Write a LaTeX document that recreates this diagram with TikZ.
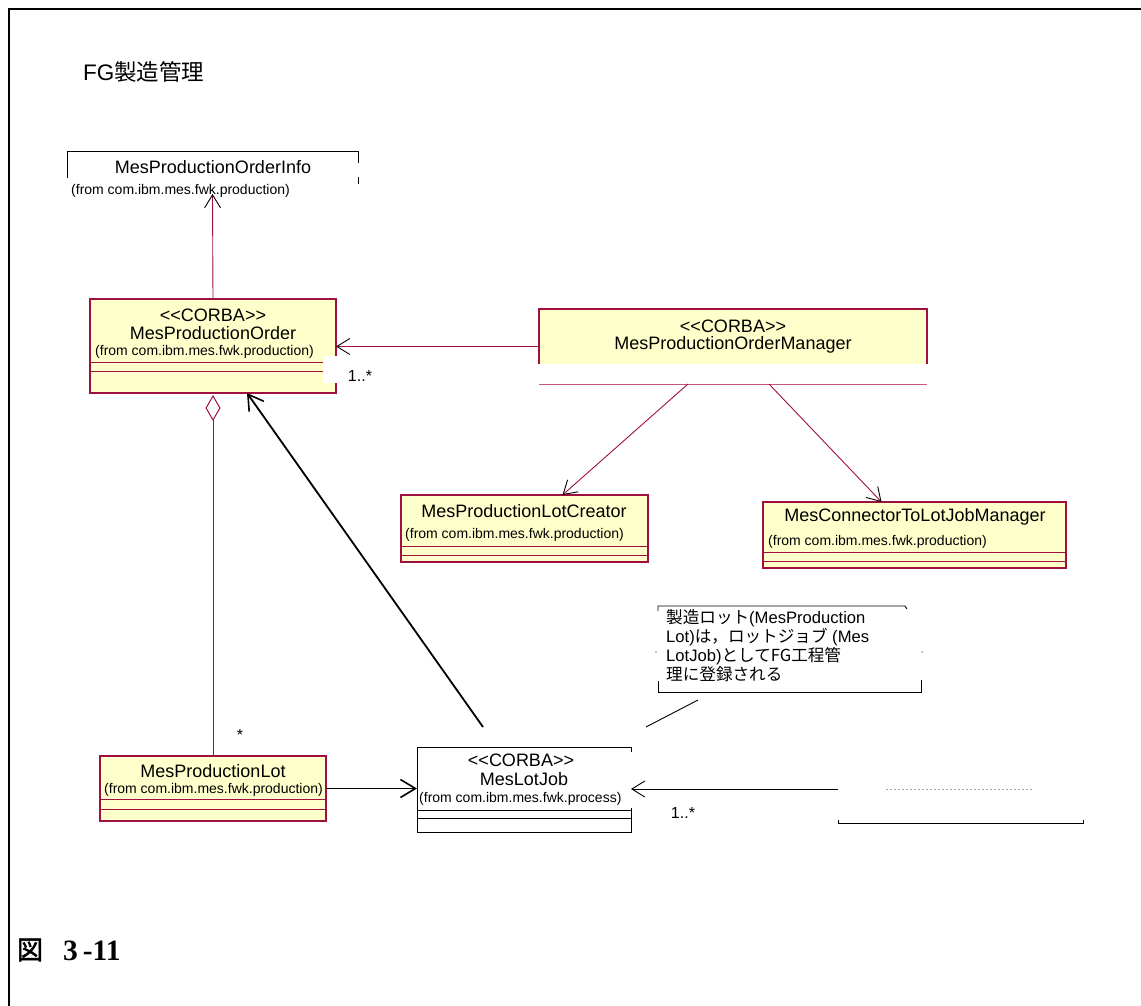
\documentclass[tikz,border=0pt]{standalone}
\usepackage{fontspec}
\setmainfont{Liberation Sans}
\newfontfamily\jpfont[AutoFakeBold=2]{Noto Sans CJK JP}
\newfontfamily\figserif{Liberation Serif}
\usetikzlibrary{arrows.meta,calc}
\definecolor{umlred}{HTML}{A0103F}
\definecolor{umlpink}{HTML}{C8557A}
\definecolor{umlfill}{HTML}{FFFFCC}
\newcommand\stereo[1]{<{}<#1>{}>}
\begin{document}
\begin{tikzpicture}[x=1pt,y=-1pt,
  classbox/.style={draw=umlred, fill=umlfill, line width=1.2pt, anchor=north west, inner sep=0pt, outer sep=0pt},
  jobbox/.style={draw=none, fill=white, anchor=north west, inner sep=0pt, outer sep=0pt},
  hollow/.style={draw=none, fill=none, anchor=north west, inner sep=0pt, outer sep=0pt},
  cname/.style={font=\fontsize{18}{20}\selectfont, inner sep=0pt},
  cfrom/.style={font=\fontsize{14}{16}\selectfont, inner sep=0pt, anchor=west},
  lbl/.style={font=\fontsize{16}{18}\selectfont, inner sep=0pt},
  comp/.style={draw=umlred, line width=1pt},
  assoc/.style={draw=umlred, line width=0.9pt, -{Straight Barb[length=13pt,width=16pt,color=black,line width=0.9pt]}},
  plain/.style={draw=black, line width=0.9pt, -{Straight Barb[length=13pt,width=16pt,line width=0.9pt]}},
  heavy/.style={draw=black, line width=1.8pt, -{Straight Barb[length=15pt,width=18pt,line width=1.6pt]}},
]
\useasboundingbox (0,0) rectangle (1141,1006);

% page frame
\draw[line width=2pt] (9,1006) -- (9,9) -- (1141,9);

% title
\node[anchor=west, inner sep=0pt, font=\fontsize{22.5}{25}\selectfont] (title) at (83,72) {FG{\jpfont 製造管理}};

% MesProductionOrderInfo (partially drawn box)
\node[hollow, minimum width=291pt, minimum height=42pt] (info) at (67,152) {};
\draw[line width=1pt] (67,178) -- (67,152) -- (358,152) -- (358,163);
\draw[line width=1pt] (358,177) -- (358,184);
\node[cname] (infoname) at (213,167) {MesProductionOrderInfo};
\node[cfrom] (infofrom) at (71,191) {(from com.ibm.mes.fwk.production)};

% MesProductionOrder
\node[classbox, minimum width=246pt, minimum height=94pt] (po) at (90,299) {};
\draw[comp] (90,362) -- (336,362);
\draw[comp] (90,371) -- (336,371);
\node[cname] (postereo) at (213,315) {\stereo{CORBA}};
\node[cname] (poname) at (213,333) {MesProductionOrder};
\node[cfrom] (pofrom) at (95,352) {(from com.ibm.mes.fwk.production)};
\node[fill=white, anchor=north west, inner sep=0pt, minimum width=55pt, minimum height=27pt] (multbg) at (323,356) {};
\node[lbl] (mult1) at (360,376) {1..*};

% MesProductionOrderManager (lower part cut away)
\node[hollow, minimum width=388pt, minimum height=75pt] (pm) at (539,309) {};
\filldraw[fill=umlfill, draw=umlred, line width=1.2pt] (539,364) -- (539,309) -- (927,309) -- (927,364);
\draw[umlpink, line width=1pt] (539,384) -- (927,384);
\node[cname] (pmstereo) at (733,326) {\stereo{CORBA}};
\node[cname] (pmname) at (733,345) {MesProductionOrderManager};

% MesProductionLotCreator
\node[classbox, minimum width=247pt, minimum height=67pt] (lc) at (401,495) {};
\draw[comp] (401,546) -- (648,546);
\draw[comp] (401,555) -- (648,555);
\node[cname] (lcname) at (524,511) {MesProductionLotCreator};
\node[cfrom] (lcfrom) at (405,535) {(from com.ibm.mes.fwk.production)};

% MesConnectorToLotJobManager
\node[classbox, minimum width=303pt, minimum height=66pt] (cm) at (763,502) {};
\draw[comp] (763,552) -- (1066,552);
\draw[comp] (763,561) -- (1066,561);
\node[cname] (cmname) at (915,517) {MesConnectorToLotJobManager};
\node[cfrom] (cmfrom) at (768,542) {(from com.ibm.mes.fwk.production)};

% MesProductionLot
\node[classbox, minimum width=226pt, minimum height=65pt] (pl) at (100,756) {};
\draw[comp] (100,799) -- (326,799);
\draw[comp] (100,809) -- (326,809);
\node[cname] (plname) at (213,771) {MesProductionLot};
\node[cfrom] (plfrom) at (104,790) {(from com.ibm.mes.fwk.production)};

% MesLotJob (white box, right edge partly missing)
\node[jobbox, minimum width=214pt, minimum height=85pt] (lj) at (417,747) {};
\draw[line width=1pt] (631,752) -- (631,747) -- (417,747) -- (417,832) -- (631,832) -- (631,808);
\draw[line width=1pt] (417,810) -- (631,810);
\draw[line width=1pt] (417,818) -- (631,818);
\node[cname] (ljstereo) at (521,760) {\stereo{CORBA}};
\node[cname] (ljname) at (524,779) {MesLotJob};
\node[cfrom] (ljfrom) at (419,799) {(from com.ibm.mes.fwk.process)};

% box to the right of MesLotJob (only its bottom edge remains)
\coordinate (rbtail) at (838,789);
\draw[line width=1pt] (838,820) -- (838,823) -- (1083,823) -- (1083,820);
\draw[gray!70, line width=1pt, dash pattern=on 2pt off 2pt] (886,789) -- (1033,789);
\node[lbl] (mult2) at (683,813) {1..*};

% note
\node[hollow, minimum width=263pt, minimum height=86pt] (note) at (658,606) {};
\draw[line width=0.9pt] (658,611) -- (658,606) -- (905,606) -- (907,609);
\draw[line width=0.9pt] (658,681) -- (658,692) -- (921,692) -- (921,680);
\fill (922,652) circle (0.6);
\fill (656,652) circle (0.6);
\node[anchor=north west, inner sep=0pt, align=left, font=\fontsize{16.6}{19}\selectfont] (notetext) at (666,609)
  {{\jpfont 製造ロット}(MesProduction\\
   Lot){\jpfont は，ロットジョブ} (Mes\\
   LotJob){\jpfont としてFG工程管}\\
   {\jpfont 理に登録される}};
\coordinate (noteanchor) at (698,700);
\coordinate (notefoot) at (646,727);
\draw[line width=0.9pt] (notefoot) -- (noteanchor);

% connectors
\draw[assoc] (po.north) -- (info.south);
\draw[assoc] (pm.west) -- (pm.west -| po.east);
\draw[assoc] ([xshift=-45pt]pm.south) -- ([xshift=38pt]lc.north);
\draw[assoc] ([xshift=36pt]pm.south) -- ([xshift=-33pt]cm.north);
\draw[draw=umlred, line width=1pt, {Diamond[open, length=26pt, width=15pt]}-] ($(po.south)+(0,2)$) -- (pl.north);
\node[lbl] (aggmult) at (240,735) {*};
\coordinate (jobtail) at (483,727);
\draw[heavy] (jobtail) -- ([xshift=34pt]po.south);
\draw[heavy] (pl.east) -- (pl.east -| lj.west);
\draw[plain] (rbtail) -- (rbtail -| lj.east);

% figure number
\node[inner sep=0pt, font=\jpfont\bfseries\fontsize{26}{28}\selectfont] (figmark) at (30,950) {図};
\node[anchor=west, inner sep=0pt, font=\figserif\bfseries\fontsize{29.5}{32}\selectfont] (fignum) at (63,951) {3\,-11};
\end{tikzpicture}
\end{document}
